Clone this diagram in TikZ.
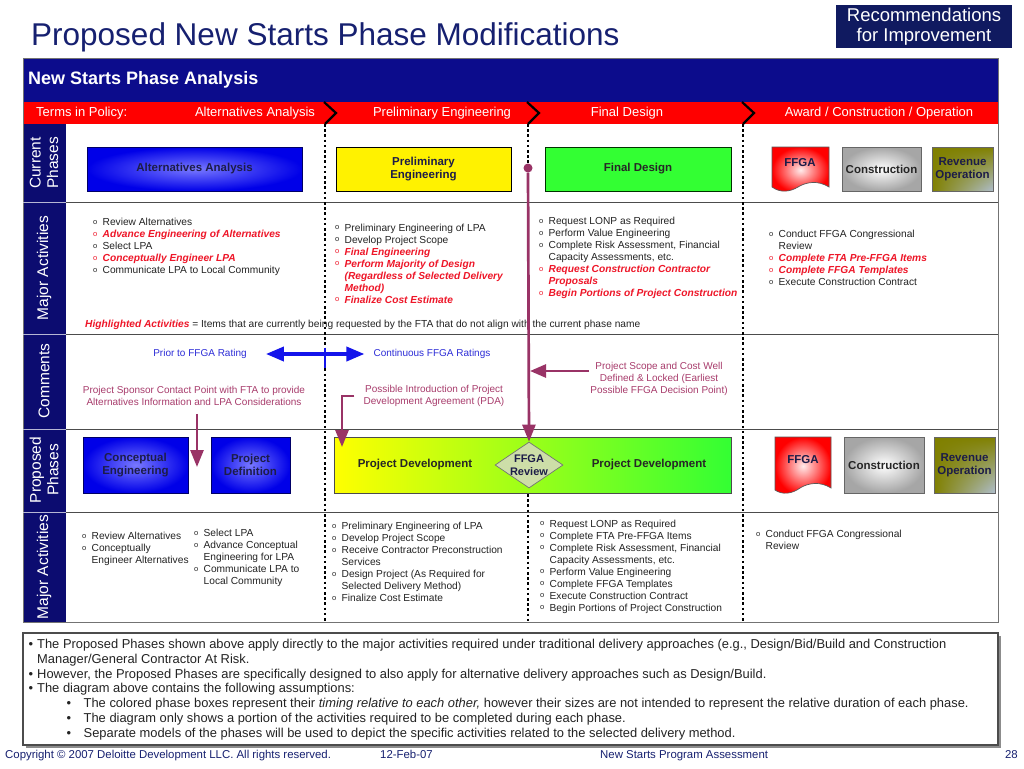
\documentclass[tikz,border=0pt]{standalone}
\usepackage{fontspec}
\setmainfont{Liberation Sans}
\usetikzlibrary{shapes.geometric,arrows.meta,shadings}
\definecolor{titleblue}{RGB}{22,32,112}
\definecolor{recbg}{RGB}{16,26,96}
\definecolor{hdrblue}{RGB}{12,12,140}
\definecolor{navy}{RGB}{12,12,112}
\definecolor{plum}{RGB}{153,51,102}
\definecolor{cmtplum}{RGB}{168,60,108}
\definecolor{hlred}{RGB}{238,22,40}
\definecolor{arrowblue}{RGB}{20,20,235}
\definecolor{txtblue}{RGB}{45,45,215}
\definecolor{boxgreen}{RGB}{51,255,51}
\definecolor{olivebox}{RGB}{128,128,0}
\definecolor{revlight}{RGB}{175,190,205}
\definecolor{boxtxt}{RGB}{28,28,72}
\definecolor{txtgray}{RGB}{35,35,35}
\definecolor{bluein}{RGB}{120,120,255}
\definecolor{blueout}{RGB}{0,0,232}
\definecolor{diafill}{RGB}{205,222,168}
\definecolor{footblue}{RGB}{22,32,112}
\newcommand\fs[2]{\fontsize{#1}{#2}\selectfont}
\newcommand\bu{\raisebox{1.3pt}{\fs{7.5}{8}o}}
\newcommand\rbu{\textcolor{hlred}{\bu}}
\newcommand\hl[1]{\textcolor{hlred}{\bfseries\itshape #1}}
\newcommand\lst[1]{\begin{tabular}[t]{@{}l@{\hspace{5.3pt}}l@{}}#1\end{tabular}}
\newcommand\bb{\makebox[8.5pt][l]{\textbullet}}
\newcommand\sbb{\hspace*{38pt}\makebox[17pt][l]{\textbullet}}
\tikzset{
 lab/.style={text=white, rotate=90, font=\fs{15.5}{17.5}, align=center},
 phase/.style={draw=black!75, line width=0.7pt, font=\bfseries\fs{11.5}{13.5}, align=center, text=boxtxt},
 bluebox/.style={phase, draw=blue!40!black, inner color=bluein, outer color=blueout},
 lst/.style={anchor=base west, font=\fs{10.2}{12}, text=txtgray},
 cmt/.style={font=\fs{10}{12}, align=center, text=cmtplum},
 band/.style={text=white, font=\fs{13}{15}},
 sep/.style={draw=black!70, line width=0.9pt},
 dots/.style={line width=2.8pt, dash pattern=on 2.6pt off 2.6pt, black},
 plumline/.style={draw=plum, line width=2.7pt},
 plumarrow/.style={plumline, -{Triangle[length=17pt,width=13pt]}},
 barrow/.style={draw=arrowblue, line width=3.6pt, {Triangle[length=18pt,width=14pt]}-{Triangle[length=18pt,width=14pt]}},
 chev/.style={line width=2.2pt, black},
 foot/.style={font=\fs{11.4}{13}, text=footblue},
 revbox/.style={phase, draw=black!60, upper left=olivebox, upper right=olivebox, lower left=olivebox, lower right=revlight},
}
\begin{document}
\begin{tikzpicture}[x=1pt,y=-1pt,every node/.style={inner sep=0pt}]
\useasboundingbox (0,0) rectangle (1024,768);
\fill[white] (0,0) rectangle (1024,768);

% title and tag
\node[anchor=west, font=\fs{31.5}{34}, text=titleblue] (title) at (31,37) {Proposed New Starts Phase Modifications};
\node[fill=recbg, text=white, minimum width=176pt, minimum height=43pt, font=\fs{18.5}{20}, align=center] (rec) at (924,26.5) {Recommendations\\for Improvement};

% header bands
\fill[hdrblue] (23,58) rectangle (998,102);
\node[anchor=west, text=white, font=\bfseries\fs{18}{20}] (hdr) at (28,80) {New Starts Phase Analysis};
\fill[red] (23,102) rectangle (998,124);
\node[band, anchor=west] (tip) at (36,113) {Terms in Policy:};
\node[band] (bAA) at (255,113) {Alternatives Analysis};
\node[band] (bPE) at (442,113) {Preliminary Engineering};
\node[band] (bFD) at (627,113) {Final Design};
\node[band] (bACO) at (879,113) {Award / Construction / Operation};
\draw[chev] (324,102) -- (336,113) -- (325,124);
\draw[chev] (527,102) -- (539,113) -- (528,124);
\draw[chev] (742,102) -- (754,113) -- (743,124);

% table frame and left column
\fill[navy] (23,124) rectangle (66,622);
\draw[draw=black!55, line width=0.9pt] (23,58) rectangle (998,622);
\draw[sep] (66,202) -- (998,202);
\draw[sep] (66,334) -- (998,334);
\draw[sep] (66,429) -- (998,429);
\draw[sep] (66,512) -- (998,512);
\draw[draw=white!70!navy, line width=0.5pt] (23,202) -- (66,202) (23,334) -- (66,334) (23,429) -- (66,429) (23,512) -- (66,512);
\node[lab] (lCur) at (44,163) {Current\\Phases};
\node[lab] (lMA1) at (44,268) {Major Activities};
\node[lab] (lCom) at (44,381) {Comments};
\node[lab] (lProp) at (44,470) {Proposed\\Phases};
\node[lab] (lMA2) at (44,567) {Major Activities};

% dividers
\draw[dots] (325,124) -- (325,622);
\draw[dots] (743,124) -- (743,622);

% current phases
\node[bluebox, minimum width=215pt, minimum height=44pt] (cAA) at (194.5,169) {Alternatives Analysis};
\node[phase, fill=yellow, draw=black, minimum width=175pt, minimum height=44pt] (cPE) at (423.5,169) {Preliminary\\Engineering};
\node[phase, fill=boxgreen, draw=black!60!green!50!black, minimum width=186pt, minimum height=44pt, text=black!85] (cFD) at (638,169) {Final Design};
\shadedraw[inner color=red!8, outer color=red, draw=black!65, line width=0.7pt] (772,147) -- (829,147) -- (829,187) .. controls (818,180) and (806,182) .. (798,187) .. controls (790,192) and (780,193) .. (772,187) -- cycle;
\node[font=\bfseries\fs{11.5}{13.5}, text=boxtxt] (cFFGA) at (800,163) {FFGA};
\node[phase, draw=black!60, inner color=white, outer color=black!35, minimum width=79pt, minimum height=44pt, text=black!85] (cCon) at (881.5,169) {Construction};
\node[revbox, minimum width=61pt, minimum height=44pt] (cRev) at (962.5,169) {Revenue\\Operation};

% magenta decision line
\node[circle, fill=plum, minimum size=9pt] (dot) at (528,168) {};
\draw[dots] (528,124) -- (dot.north);

% major activities 1
\node[lst] (m1a) at (93,225.3) {\lst{\bu & Review Alternatives\\ \rbu & \hl{Advance Engineering of Alternatives}\\ \bu & Select LPA\\ \rbu & \hl{Conceptually Engineer LPA}\\ \bu & Communicate LPA to Local Community}};
\node[lst] (m1b) at (335,231) {\lst{\bu & Preliminary Engineering of LPA\\ \bu & Develop Project Scope\\ \rbu & \hl{Final Engineering}\\ \rbu & \hl{Perform Majority of Design}\\ & \hl{(Regardless of Selected Delivery}\\ & \hl{Method)}\\ \rbu & \hl{Finalize Cost Estimate}}};
\node[lst] (m1c) at (539,224.6) {\lst{\bu & Request LONP as Required\\ \bu & Perform Value Engineering\\ \bu & Complete Risk Assessment, Financial\\ & Capacity Assessments, etc.\\ \rbu & \hl{Request Construction Contractor}\\ & \hl{Proposals}\\ \rbu & \hl{Begin Portions of Project Construction}}};
\node[lst] (m1d) at (769,237.3) {\lst{\bu & Conduct FFGA Congressional\\ & Review\\ \rbu & \hl{Complete FTA Pre-FFGA Items}\\ \rbu & \hl{Complete FFGA Templates}\\ \bu & Execute Construction Contract}};
\node[lst] (hlnote) at (85,327) {\hl{Highlighted Activities} = Items that are currently being requested by the FTA that do not align with the current phase name};

% comments
\node[cmt, text=txtblue] (prior) at (200,354) {Prior to FFGA Rating};
\node[cmt, text=txtblue] (cont) at (432,354) {Continuous FFGA Ratings};
\draw[barrow] ([xshift=19pt]prior.east) -- ([xshift=-9pt]cont.west);
\draw[draw=arrowblue, line width=2.5pt] (325,348) -- (325,368);
\node[cmt] (sponsor) at (194,396) {Project Sponsor Contact Point with FTA to provide\\Alternatives Information and LPA Considerations};
\node[cmt] (pda) at (434,396) {Possible Introduction of Project\\Development Agreement (PDA)};
\node[cmt] (scope) at (659,379) {Project Scope and Cost Well\\Defined \& Locked (Earliest\\Possible FFGA Decision Point)};

% proposed phases
\node[bluebox, minimum width=105pt, minimum height=56pt] (pCE) at (135.5,465) {Conceptual\\Engineering};
\node[bluebox, minimum width=79pt, minimum height=56pt] (pPD) at (250.5,465) {Project\\Definition};
\node[phase, left color=yellow, right color=boxgreen, draw=black!70, minimum width=397pt, minimum height=56pt] (pDev) at (532.5,465) {};
\node[font=\bfseries\fs{11.5}{13.5}, text=black!85] (pDevL) at (415,465) {Project Development};
\node[font=\bfseries\fs{11.5}{13.5}, text=black!85] (pDevR) at (649,465) {Project Development};
\node[diamond, draw=black!55, line width=0.7pt, fill=diafill, minimum width=68pt, minimum height=46pt] (pFR) at (529,465) {};
\node[font=\bfseries\fs{11}{13.5}, align=center, text=boxtxt] (pFRt) at (529,465) {FFGA\\Review};
\shadedraw[inner color=red!8, outer color=red, draw=black!65, line width=0.7pt] (775,437) -- (831,437) -- (831,488) .. controls (820,481) and (808,483) .. (800,488) .. controls (792,494) and (782,495) .. (775,490) -- cycle;
\node[font=\bfseries\fs{11.5}{13.5}, text=boxtxt] (pFFGA) at (803,460) {FFGA};
\node[phase, draw=black!60, inner color=white, outer color=black!35, minimum width=80pt, minimum height=56pt, text=black!85] (pCon) at (884,465) {Construction};
\node[revbox, minimum width=61pt, minimum height=56pt] (pRev) at (964.5,465) {Revenue\\Operation};
\draw[dots] (528,494) -- (528,622);

% magenta connectors
\draw[plumarrow] (dot) -- (pFR.north);
\coordinate (scTip) at (530,371);
\draw[plumarrow, -{Triangle[length=16pt,width=13pt]}, shorten <=1pt] (scope.west |- scTip) -- (scTip);
\coordinate (spTip) at (197,467);
\draw[plumarrow, shorten <=8pt] (sponsor.south -| spTip) -- (spTip);
\coordinate (pdaTip) at (342,447);
\draw[plumarrow, shorten <=9pt] (pda.west) -| (pdaTip);

% major activities 2
\node[lst] (m2a) at (82,539.6) {\lst{\bu & Review Alternatives\\ \bu & Conceptually\\ & Engineer Alternatives}};
\node[lst] (m2b) at (194,536.3) {\lst{\bu & Select LPA\\ \bu & Advance Conceptual\\ & Engineering for LPA\\ \bu & Communicate LPA to\\ & Local Community}};
\node[lst] (m2c) at (332,529.3) {\lst{\bu & Preliminary Engineering of LPA\\ \bu & Develop Project Scope\\ \bu & Receive Contractor Preconstruction\\ & Services\\ \bu & Design Project (As Required for\\ & Selected Delivery Method)\\ \bu & Finalize Cost Estimate}};
\node[lst] (m2d) at (540,527) {\lst{\bu & Request LONP as Required\\ \bu & Complete FTA Pre-FFGA Items\\ \bu & Complete Risk Assessment, Financial\\ & Capacity Assessments, etc.\\ \bu & Perform Value Engineering\\ \bu & Complete FFGA Templates\\ \bu & Execute Construction Contract\\ \bu & Begin Portions of Project Construction}};
\node[lst] (m2e) at (756,537.6) {\lst{\bu & Conduct FFGA Congressional\\ & Review}};

% notes box
\fill[black!45] (26,636) rectangle (1001,748);
\draw[fill=white, draw=black!70, line width=1.3pt] (23,633) rectangle (998,745);
\node[anchor=base west, font=\fs{12.9}{14.8}, text=txtgray] (notes) at (28.5,648.5) {\begin{tabular}[t]{@{}l@{}}
\bb The Proposed Phases shown above apply directly to the major activities required under traditional delivery approaches (e.g., Design/Bid/Build and Construction\\
\hspace*{8.5pt}Manager/General Contractor At Risk.\\
\bb However, the Proposed Phases are specifically designed to also apply for alternative delivery approaches such as Design/Build.\\
\bb The diagram above contains the following assumptions:\\
\sbb The colored phase boxes represent their \textit{timing relative to each other,} however their sizes are not intended to represent the relative duration of each phase.\\
\sbb The diagram only shows a portion of the activities required to be completed during each phase.\\
\sbb Separate models of the phases will be used to depict the specific activities related to the selected delivery method.
\end{tabular}};

% footer
\node[foot, anchor=base west] (copy) at (5,758.5) {Copyright © 2007 Deloitte Development LLC. All rights reserved.};
\node[foot, anchor=base west] (date) at (380,758.5) {12-Feb-07};
\node[foot, anchor=base west] (prog) at (600,758.5) {New Starts Program Assessment};
\node[foot, anchor=base east] (pg) at (1018,758.5) {28};
\end{tikzpicture}
\end{document}
